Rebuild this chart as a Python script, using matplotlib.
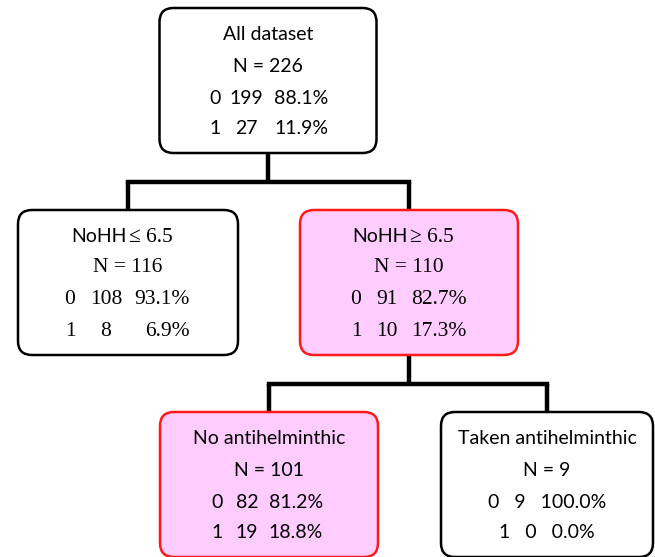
import matplotlib.pyplot as plt
from matplotlib.patches import FancyBboxPatch

# node contents
titles = ['All dataset', 'NoHH', 'NoHH', 'No antihelminthic', 'Taken antihelminthic']
title_tails = ['', '\u2264 6.5', '\u2265 6.5', '', '']
n_total = [226, 116, 110, 101, 9]
count_0 = [199, 108, 91, 82, 9]
count_1 = [27, 8, 10, 19, 0]
pct_0 = ['88.1%', '93.1%', '82.7%', '81.2%', '100.0%']
pct_1 = ['11.9%', '6.9%', '17.3%', '18.8%', '0.0%']
highlight = [False, False, True, True, False]
serif_node = [False, True, True, False, False]
children = {0: [1, 2], 2: [3, 4]}

# layout in pixels (x centre, top, width) and column positions
cx = [268, 128, 409, 269, 547]
top = [8, 210, 210, 412, 412]
width = [217, 220, 218, 218, 212]
cls_x = [215, 70, 356, 217, 500]
cnt_x = [246, 106, 387, 247, 524]
pct_right = [328, 190, 467, 323, 605]
row_centered = [False, False, False, False, True]
box_h = 145

sans = ['Lato', 'DejaVu Sans']
serif = ['Liberation Serif', 'DejaVu Serif']
fs_sans = 14
fs_serif = 15.5

fig = plt.figure(figsize=(6.55, 5.57), dpi=100)
ax = fig.add_axes([0, 0, 1, 1])
ax.set_xlim(0, 655)
ax.set_ylim(557, 0)
ax.axis('off')

# connectors
for p, kids in children.items():
    y0 = top[p] + box_h
    y1 = top[kids[0]]
    ymid = (y0 + y1) / 2
    ax.plot([cx[p], cx[p]], [y0, ymid], color='black', lw=3.2, solid_capstyle='butt', zorder=1)
    ax.plot([cx[kids[0]], cx[kids[-1]]], [ymid, ymid], color='black', lw=3.2,
            solid_capstyle='projecting', zorder=1)
    for k in kids:
        ax.plot([cx[k], cx[k]], [ymid, y1], color='black', lw=3.2, solid_capstyle='butt', zorder=1)

for i in range(len(titles)):
    x0 = cx[i] - width[i] / 2
    face = '#ffccff' if highlight[i] else 'white'
    edge = '#ff1a1a' if highlight[i] else 'black'
    box = FancyBboxPatch((x0 + 14, top[i] + 14), width[i] - 28, box_h - 28,
                         boxstyle='round,pad=14', facecolor=face, edgecolor=edge,
                         lw=1.8, zorder=2)
    ax.add_patch(box)

    num_font = serif if serif_node[i] else sans
    fs = fs_serif if serif_node[i] else fs_sans
    if title_tails[i]:
        ax.text(cx[i] - 1, top[i] + 27, titles[i], ha='right', va='center',
                family=sans, fontsize=fs_sans, zorder=3)
        ax.text(cx[i] + 1, top[i] + 27, title_tails[i], ha='left', va='center',
                family=serif, fontsize=fs_serif, zorder=3)
    else:
        ax.text(cx[i], top[i] + 26, titles[i], ha='center', va='center',
                family=sans, fontsize=fs_sans, zorder=3)
    ax.text(cx[i], top[i] + 58, f'N = {n_total[i]}', ha='center', va='center',
            family=num_font, fontsize=fs, zorder=3)
    rows = [(0, count_0[i], pct_0[i]), (1, count_1[i], pct_1[i])]
    for row, (cls, cnt, pct) in enumerate(rows):
        y = top[i] + 90 + row * 31
        if row_centered[i]:
            ax.text(cx[i], y, f'{cls}   {cnt}   {pct}', ha='center', va='center',
                    family=num_font, fontsize=fs, zorder=3)
            continue
        ax.text(cls_x[i], y, str(cls), ha='center', va='center',
                family=num_font, fontsize=fs, zorder=3)
        ax.text(cnt_x[i], y, str(cnt), ha='center', va='center',
                family=num_font, fontsize=fs, zorder=3)
        ax.text(pct_right[i], y, pct, ha='right', va='center',
                family=num_font, fontsize=fs, zorder=3)

fig.savefig('out.png', dpi=100)
